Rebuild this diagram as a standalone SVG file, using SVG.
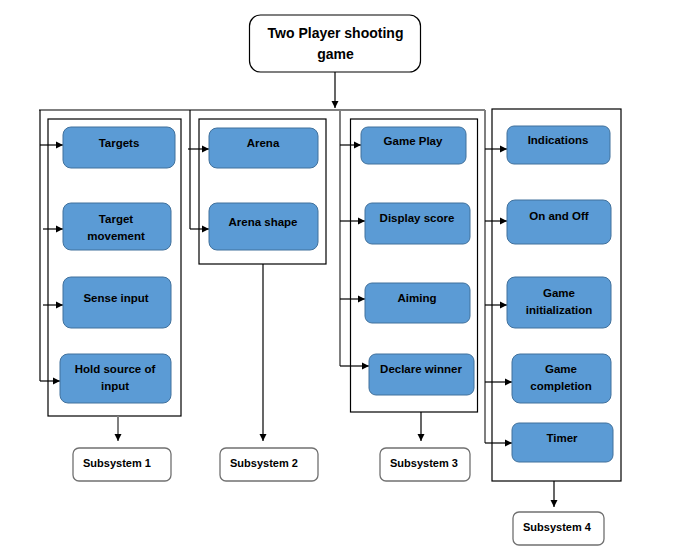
<svg xmlns="http://www.w3.org/2000/svg" width="673" height="556" viewBox="0 0 673 556">
<defs>
<marker id="ah" markerWidth="8" markerHeight="8" refX="7" refY="4" orient="auto" markerUnits="userSpaceOnUse">
<path d="M0,0.5 L7,4 L0,7.5 Z" fill="#000"/>
</marker>
<style>
text{font-family:"Liberation Sans",Arial,sans-serif;font-weight:bold;fill:#000;text-anchor:middle}
.t{font-size:11.5px}
.title{font-size:14px}
.sub{font-size:11px;text-anchor:start}
.blue{fill:#5B9BD5;stroke:#41719C;stroke-width:1}
.grp{fill:none;stroke:#000;stroke-width:1.2}
.subs{fill:#fff;stroke:#707070;stroke-width:1.3}
.ln{fill:none;stroke:#000;stroke-width:1.2}
.gl{fill:none;stroke:#7f7f7f;stroke-width:2}
.ar{fill:none;stroke:#000;stroke-width:1.2;marker-end:url(#ah)}
.gar{fill:none;stroke:#7f7f7f;stroke-width:2;marker-end:url(#ah)}
</style>
</defs>
<rect width="673" height="556" fill="#fff"/>

<g id="group-boxes">
<rect class="grp" x="48" y="119" width="133" height="297"/>
<rect class="grp" x="199" y="119" width="127" height="145"/>
<rect class="grp" x="350.5" y="119" width="127" height="293"/>
<rect class="grp" x="492" y="109" width="129" height="372"/>
</g>

<g id="connectors">
<path class="ar" d="M335,72 V108"/>
<path class="gl" d="M39,110 H485"/>
<path class="ln" d="M40,110 V381"/>
<path class="ar" d="M40,145 H63"/>
<path class="ar" d="M43,229 H63"/>
<path class="ar" d="M43,305 H63"/>
<path class="ar" d="M40,381 H60"/>
<path class="ln" d="M190,110 V229"/>
<path class="ar" d="M188,149 H209"/>
<path class="ar" d="M190,229 H209"/>
<path class="gl" d="M340,110 V366"/>
<path class="ar" d="M340,145 H361"/>
<path class="ar" d="M340,221 H365"/>
<path class="ar" d="M340,299 H365"/>
<path class="ar" d="M340,366 H369"/>
<path class="gl" d="M485,110 V443"/>
<path class="ar" d="M485,149 H507"/>
<path class="ar" d="M485,221 H507"/>
<path class="ar" d="M485,305 H507"/>
<path class="ar" d="M485,382 H512"/>
<path class="ar" d="M485,443 H512"/>
<path class="gar" d="M118,416 V441"/>
<path class="ar" d="M263,264 V441"/>
<path class="ar" d="M421,412 V441"/>
<path class="ar" d="M554,481 V507"/>
</g>

<g id="root">
<rect x="249.5" y="15" width="171" height="57" rx="11" fill="#fff" stroke="#000" stroke-width="1.2"/>
<text class="title" x="335.5" y="38">Two Player shooting</text>
<text class="title" x="335.5" y="59">game</text>
</g>

<g id="targets"><rect class="blue" x="63" y="127" width="112" height="41" rx="8"/><text class="t" x="119" y="147">Targets</text></g>
<g id="target-movement"><rect class="blue" x="63" y="203" width="108" height="47" rx="8"/><text class="t" x="116" y="223">Target</text><text class="t" x="116" y="240">movement</text></g>
<g id="sense-input"><rect class="blue" x="63" y="277" width="108" height="51" rx="8"/><text class="t" x="116" y="302">Sense input</text></g>
<g id="hold-source"><rect class="blue" x="60" y="354" width="111" height="49" rx="8"/><text class="t" x="115" y="373">Hold source of</text><text class="t" x="115" y="390">input</text></g>

<g id="arena"><rect class="blue" x="209" y="128" width="109" height="40" rx="8"/><text class="t" x="263" y="147">Arena</text></g>
<g id="arena-shape"><rect class="blue" x="209" y="203" width="109" height="47" rx="8"/><text class="t" x="263" y="226">Arena shape</text></g>

<g id="game-play"><rect class="blue" x="361" y="127" width="105" height="37" rx="7"/><text class="t" x="413" y="145">Game Play</text></g>
<g id="display-score"><rect class="blue" x="365" y="203" width="105" height="41" rx="7"/><text class="t" x="417" y="222">Display score</text></g>
<g id="aiming"><rect class="blue" x="365" y="283" width="105" height="40" rx="7"/><text class="t" x="417" y="302">Aiming</text></g>
<g id="declare-winner"><rect class="blue" x="369" y="354" width="105" height="41" rx="7"/><text class="t" x="421" y="373">Declare winner</text></g>

<g id="indications"><rect class="blue" x="507" y="126" width="103" height="38" rx="7"/><text class="t" x="558" y="144">Indications</text></g>
<g id="on-and-off"><rect class="blue" x="507" y="200" width="104" height="44" rx="8"/><text class="t" x="559" y="220">On and Off</text></g>
<g id="game-init"><rect class="blue" x="507" y="277" width="104" height="51" rx="8"/><text class="t" x="559" y="297">Game</text><text class="t" x="559" y="314">initialization</text></g>
<g id="game-completion"><rect class="blue" x="512" y="354" width="99" height="49" rx="8"/><text class="t" x="561" y="373">Game</text><text class="t" x="561" y="390">completion</text></g>
<g id="timer"><rect class="blue" x="512" y="423" width="101" height="39" rx="7"/><text class="t" x="562" y="442">Timer</text></g>

<g id="subsystem-1"><rect class="subs" x="73" y="448" width="98" height="33" rx="6"/><text class="sub" x="83" y="467">Subsystem 1</text></g>
<g id="subsystem-2"><rect class="subs" x="220" y="448" width="98" height="33" rx="6"/><text class="sub" x="230" y="467">Subsystem 2</text></g>
<g id="subsystem-3"><rect class="subs" x="380" y="448" width="90" height="33" rx="6"/><text class="sub" x="390" y="467">Subsystem 3</text></g>
<g id="subsystem-4"><rect class="subs" x="513" y="512" width="91" height="33" rx="6"/><text class="sub" x="523" y="531">Subsystem 4</text></g>
</svg>
